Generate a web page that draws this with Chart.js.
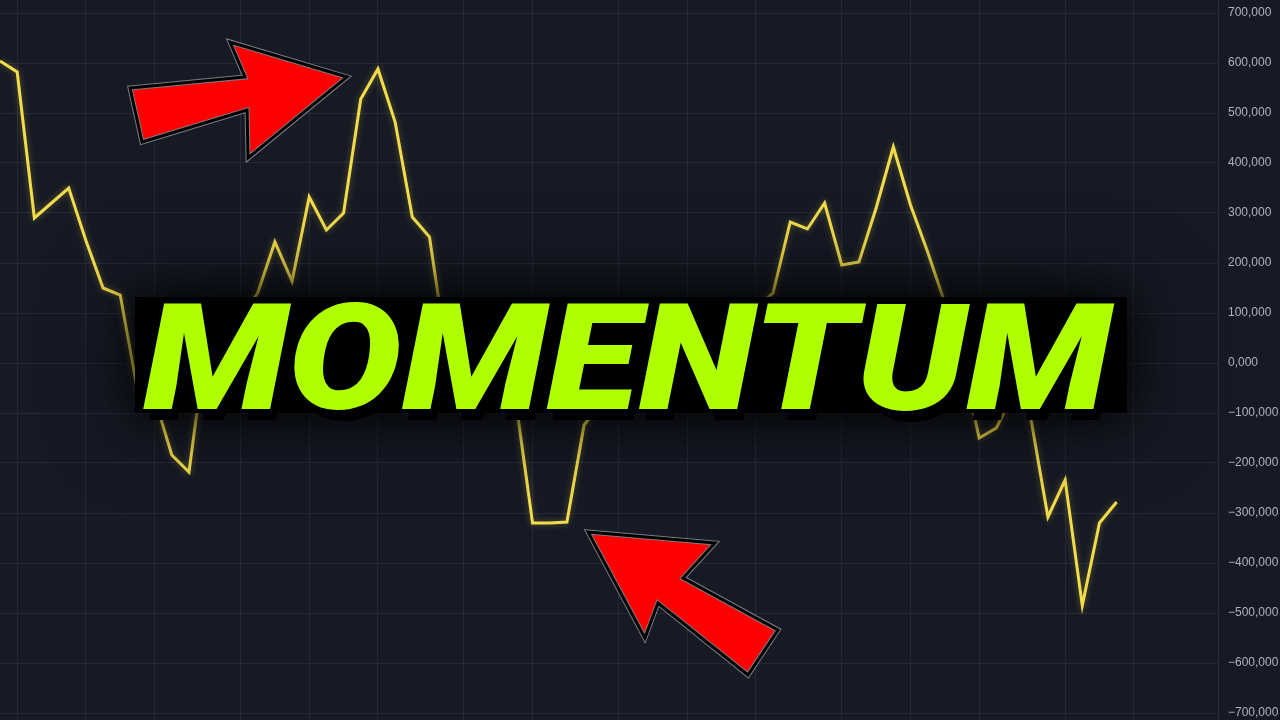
<!DOCTYPE html>
<html><head><meta charset="utf-8">
<script src="https://cdn.jsdelivr.net/npm/chart.js@4"></script>
<style>html,body{margin:0;padding:0;background:#161a25;overflow:hidden}#wrap{width:1280px;height:720px;position:relative}</style>
</head><body><div id="wrap"><canvas id="c" width="1280" height="720"></canvas></div>
<script>
// Momentum values (thousands), one per bar/session
const momentumK = [604,582,290,320,350,245,150,136,-54,-70,-184,-218,40,60,90,140,242,164,332,266,300,528,588,482,292,252,20,-10,-20,-40,-70,-320,-320,-318,-124,-80,-40,0,30,10,50,80,60,100,110,140,282,268,320,196,202,310,432,316,222,120,5,-150,-130,-60,-110,-308,-234,-485,-320,-278];
const xGridTicks = [1,5,9,14,18,22,27,31,36,40,44,49,53,57,62,66];
const yTickValues = [700000,600000,500000,400000,300000,200000,100000,0,-100000,-200000,-300000,-400000,-500000,-600000,-700000];
const yTickLabels = ['700,000','600,000','500,000','400,000','300,000','200,000','100,000','0,000','\u2212100,000','\u2212200,000','\u2212300,000','\u2212400,000','\u2212500,000','\u2212600,000','\u2212700,000'];
const titleText = 'MOMENTUM';
const xMin = 0, xMax = 70.9, yMin = -714000, yMax = 726000;
// annotation shapes in data units (x index, value)
const titleBox = {x1: 7.86, x2: 65.6, y1: 132000, y2: -100000};
const titleInk = {x1: 8.32, x2: 64.9, y1: 124000, y2: -96000};
const arrowTop = [[7.57,550000],[14.26,572000],[13.39,642000],[20.20,572000],[14.44,410000],[14.38,506000],[8.27,442000]];
const arrowBottom = [[34.23,-338000],[41.62,-360000],[39.76,-430000],[45.29,-534000],[43.54,-624000],[38.30,-480000],[37.54,-550000]];

const points = momentumK.map((v, i) => ({x: i, y: v * 1000}));
const gridColor = '#252935';

const overlay = {
  id: 'overlay',
  beforeDraw(chart) {
    const ctx = chart.ctx;
    ctx.save();
    ctx.fillStyle = '#161a25';
    ctx.fillRect(0, 0, chart.width, chart.height);
    ctx.restore();
  },
  beforeDatasetsDraw(chart) {
    chart.ctx.save();
    chart.ctx.shadowColor = 'rgba(255,225,70,0.35)';
    chart.ctx.shadowBlur = 6;
  },
  afterDatasetsDraw(chart) {
    chart.ctx.restore();
  },
  afterDraw(chart) {
    const ctx = chart.ctx, xs = chart.scales.x, ys = chart.scales.y;
    const px = v => xs.getPixelForValue(v), py = v => ys.getPixelForValue(v);
    const drawArrow = pts => {
      ctx.save();
      ctx.beginPath();
      pts.forEach((p, i) => { const X = px(p[0]), Y = py(p[1]); i ? ctx.lineTo(X, Y) : ctx.moveTo(X, Y); });
      ctx.closePath();
      ctx.lineJoin = 'miter';
      ctx.fillStyle = '#ff0000';
      ctx.fill();
      ctx.strokeStyle = '#7a7d86';
      ctx.lineWidth = 5;
      ctx.stroke();
      ctx.strokeStyle = '#000000';
      ctx.lineWidth = 3;
      ctx.stroke();
      ctx.restore();
    };
    drawArrow(arrowTop);
    drawArrow(arrowBottom);
    const bx1 = px(titleBox.x1), bx2 = px(titleBox.x2), by1 = py(titleBox.y1), by2 = py(titleBox.y2);
    ctx.save();
    ctx.shadowColor = 'rgba(0,0,0,0.75)';
    ctx.shadowBlur = 90;
    ctx.fillStyle = '#000';
    ctx.fillRect(bx1, by1, bx2 - bx1, by2 - by1);
    ctx.shadowBlur = 40;
    ctx.fillRect(bx1, by1, bx2 - bx1, by2 - by1);
    ctx.restore();
    const tx1 = px(titleInk.x1), tx2 = px(titleInk.x2), ty1 = py(titleInk.y1), ty2 = py(titleInk.y2);
    ctx.save();
    ctx.font = 'italic 900 150px Roboto, "Open Sans", Lato, sans-serif';
    ctx.textAlign = 'left';
    ctx.textBaseline = 'alphabetic';
    const m = ctx.measureText(titleText);
    const inkW = m.actualBoundingBoxLeft + m.actualBoundingBoxRight;
    const inkH = m.actualBoundingBoxAscent + m.actualBoundingBoxDescent;
    const sx = (tx2 - tx1) / inkW, sy = (ty2 - ty1) / inkH;
    const drawText = (ox, oy, color) => {
      ctx.save();
      ctx.translate(tx1 + ox, ty1 + oy);
      ctx.scale(sx, sy);
      ctx.fillStyle = color;
      ctx.fillText(titleText, m.actualBoundingBoxLeft, m.actualBoundingBoxAscent);
      ctx.restore();
    };
    drawText(6, 11, '#000000');
    drawText(0, 0, '#b0ff00');
    ctx.restore();
  }
};

new Chart(document.getElementById('c'), {
  type: 'line',
  data: {
    datasets: [{
      data: points,
      borderColor: '#f3dc4c',
      borderWidth: 3,
      pointRadius: 0,
      tension: 0,
      fill: false,
      borderJoinStyle: 'miter'
    }]
  },
  options: {
    responsive: false,
    animation: false,
    devicePixelRatio: 1,
    layout: {padding: 0},
    plugins: {legend: {display: false}, tooltip: {enabled: false}},
    scales: {
      x: {
        type: 'linear', min: xMin, max: xMax, position: 'bottom',
        afterBuildTicks: s => { s.ticks = xGridTicks.map(v => ({value: v})); },
        afterFit: s => { s.height = 0; s.paddingLeft = 0; s.paddingRight = 0; s.paddingTop = 0; s.paddingBottom = 0; },
        ticks: {display: false},
        grid: {color: gridColor, drawTicks: false, lineWidth: 1},
        border: {display: false}
      },
      y: {
        type: 'linear', min: yMin, max: yMax, position: 'right',
        afterBuildTicks: s => { s.ticks = yTickValues.map(v => ({value: v})); },
        afterFit: s => { s.width = 62; s.paddingTop = 0; s.paddingBottom = 0; },
        ticks: {
          autoSkip: false,
          padding: 10,
          color: '#aeb2bd',
          font: {family: '"Liberation Sans", Arial, sans-serif', size: 12},
          callback: v => { const i = yTickValues.indexOf(v); return i >= 0 ? yTickLabels[i] : ''; }
        },
        grid: {color: gridColor, drawTicks: false, lineWidth: 1},
        border: {display: true, color: '#2a2e39'}
      }
    }
  },
  plugins: [overlay]
});
</script>
</body></html>
